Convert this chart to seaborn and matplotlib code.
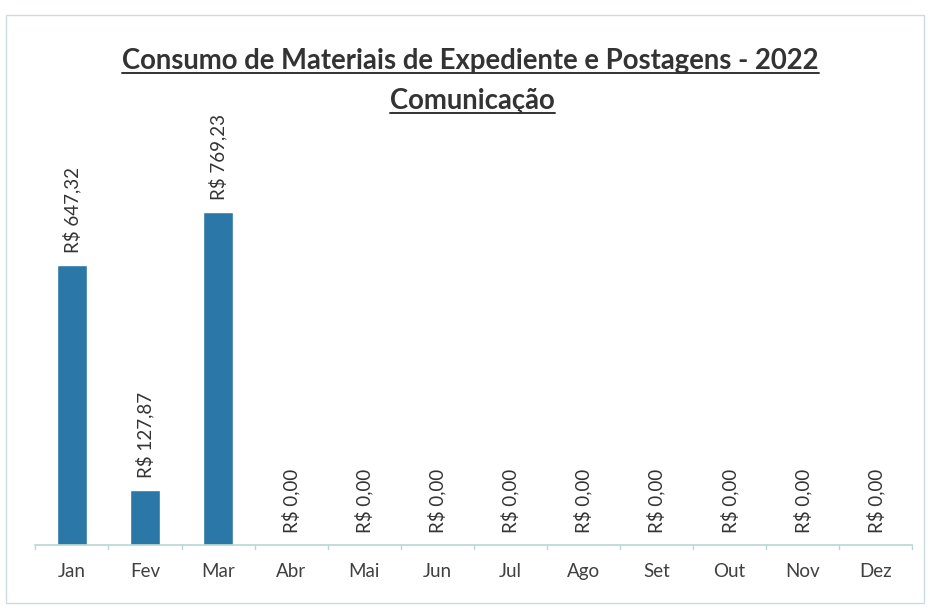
import matplotlib
matplotlib.use("Agg")
import matplotlib.pyplot as plt
import seaborn as sns
import pandas as pd
from matplotlib.patches import Rectangle
from matplotlib.lines import Line2D

# ==========================================
# DATA
# ==========================================
months = ["Jan", "Fev", "Mar", "Abr", "Mai", "Jun",
          "Jul", "Ago", "Set", "Out", "Nov", "Dez"]
values = [647.32, 127.87, 769.23, 0, 0, 0, 0, 0, 0, 0, 0, 0]

title = "Consumo de Materiais de Expediente e Postagens - 2022"
subtitle = "Comunicação"

df = pd.DataFrame({"mes": months, "valor": values})

# ==========================================
# PLOT
# ==========================================
sns.set_theme(style="white")
plt.rcParams["font.family"] = ["Lato", "DejaVu Sans"]

fig = plt.figure(figsize=(9.3, 6.09), dpi=100)
ax = fig.add_axes([0.038, 0.105, 0.943, 0.665])

sns.barplot(data=df, x="mes", y="valor", color="#2b78a8",
            saturation=1, width=0.41, ax=ax)

ax.set_ylim(0, 935)
ax.set_xlim(-0.5, len(months) - 0.5)
ax.set_xlabel("")
ax.set_ylabel("")
ax.set_yticks([])
for side in ["left", "right", "top"]:
    ax.spines[side].set_visible(False)
ax.spines["bottom"].set_color("#b8d8d2")
ax.spines["bottom"].set_linewidth(1.2)

# tick marks between categories
ax.set_xticks(range(len(months)))
ax.set_xticklabels(months, fontsize=13.5, color="#404040")
ax.tick_params(axis="x", length=0, pad=13)
for b in [i - 0.5 for i in range(len(months) + 1)]:
    ax.plot([b, b], [0, -8], color="#b8d8d2", lw=1, clip_on=False)

# data labels
for i, v in enumerate(values):
    lbl = "R$ " + f"{v:,.2f}".replace(",", "X").replace(".", ",").replace("X", ".")
    ax.annotate(lbl, (i, v), xytext=(0, 8.5), textcoords="offset points",
                rotation=90, ha="center", va="bottom", fontsize=13.5,
                color="#333333")

# titles with underline
t1 = fig.text(0.506, 0.900, title, ha="center", va="center",
              fontsize=19.8, fontweight="bold", color="#333333")
t2 = fig.text(0.508, 0.834, subtitle, ha="center", va="center",
              fontsize=19.8, fontweight="bold", color="#333333")
fig.canvas.draw()
r = fig.canvas.get_renderer()
for t in (t1, t2):
    bb = t.get_window_extent(r).transformed(fig.transFigure.inverted())
    fig.add_artist(Line2D([bb.x0, bb.x1], [bb.y0 + 0.002, bb.y0 + 0.002],
                          transform=fig.transFigure, color="#333333", lw=1.4))

# outer frame
fig.add_artist(Rectangle((0.006, 0.01), 0.988, 0.966, transform=fig.transFigure,
                         fill=False, edgecolor="#c9dde0", lw=1))

fig.savefig("out.png", dpi=100)
